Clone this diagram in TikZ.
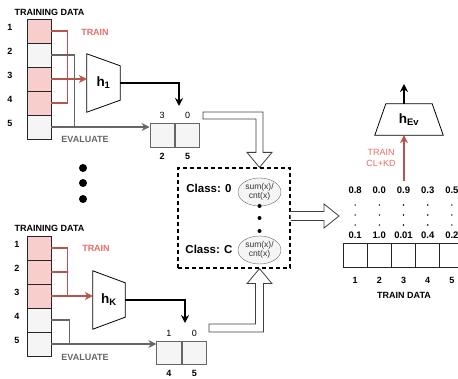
\documentclass[tikz,border=0pt]{standalone}
\usepackage{fontspec}
\setmainfont{Liberation Sans}
\usetikzlibrary{positioning,calc,arrows.meta,shapes.geometric}
\definecolor{pnk}{HTML}{F8CECC}
\definecolor{gry}{HTML}{F5F5F5}
\definecolor{trnred}{HTML}{B85450}
\definecolor{trntxt}{HTML}{EA6B66}
\definecolor{evgray}{HTML}{666666}

\begin{document}
\begin{tikzpicture}[x=1pt,y=-1pt,
    cell/.style={draw=black!85,minimum size=24pt,inner sep=0pt,line width=0.8pt},
    pcell/.style={draw=evgray,fill=gry,minimum width=24.5pt,minimum height=24pt,inner sep=0pt,line width=0.8pt},
    num/.style={font=\fontsize{9}{11}\selectfont\bfseries,inner sep=0pt},
    cnt/.style={font=\fontsize{9}{11}\selectfont,inner sep=0pt},
    score/.style={font=\fontsize{9.5}{11}\selectfont\bfseries,inner sep=0pt},
    cls/.style={font=\fontsize{11.5}{13}\selectfont\bfseries,inner sep=0pt},
    ell/.style={ellipse,draw=evgray,fill=gry,minimum width=43pt,minimum height=28pt,inner sep=0pt,
      align=center,font=\fontsize{8.5}{9.5}\selectfont,text=black!80},
    model/.style={minimum width=#1,minimum height=58pt,inner sep=0pt,font=\fontsize{13.5}{14}\selectfont\bfseries},
    trn/.style={draw=trnred,line width=1.1pt},
    evl/.style={draw=evgray,line width=1.1pt},
    pred/.style={draw=black,line width=1.3pt},
    arr/.style={-{Stealth[length=8pt,width=8pt]}},
    fat/.style={draw=black!75,fill=white,line width=0.8pt},
    jn/.style={circle,fill=#1,inner sep=0pt,minimum size=2.5pt},
  ]
  \useasboundingbox (0,0) rectangle (458,379);

  % first model h_1
  \node[num] (td1) at (49.5,12) {TRAINING DATA};
  \foreach \i/\c in {1/pnk,2/gry,3/pnk,4/pnk,5/gry}
    \node[cell,fill=\c] (t\i) at (39,{31+24*(\i-1)}) {};
  \foreach \i in {1,...,5}
    \node[num] (tn\i) at (10,{27.5+24*(\i-1)}) {\i};
  \node[model=33pt] (h1) at (103.5,83) {h\textsubscript{1}};
  \draw[line width=0.8pt] (h1.north west) -- ([yshift=-12pt]h1.north east)
    -- ([yshift=12pt]h1.south east) -- (h1.south west) -- cycle;
  \node[pcell] (pa) at (162.25,135) {};
  \node[pcell,right=0pt of pa] (pb) {};
  \node[cnt,above=4pt of pa] (pa3) {3};
  \node[cnt,above=4pt of pb] (pb0) {0};
  \node[num,below=5.5pt of pa] (pa2) {2};
  \node[num,below=5.5pt of pb] (pb5) {5};
  \node[num,text=trntxt] (train1) at (95,32) {TRAIN};
  \node[num,text=evgray] (eval1) at (85,139) {EVALUATE};
  \draw[trn] (t1.east) -- ++(16,0) |- (t4.east);
  \draw[trn,arr] (t3.east) -- (t3.east -| h1.west);
  \node[jn=trnred] at ($(t3.east)+(16,0)$) {};
  \draw[evl] (t2.east) -- ++(23,0) |- (t5.east);
  \draw[evl,arr] (t5.east) -- (t5.east -| pa.west);
  \node[jn=evgray] at ($(t5.east)+(23,0)$) {};
  \coordinate (o1) at (179,106);
  \draw[pred,arr] (h1.east) -| (o1);

  % more models
  \foreach \y in {168,183,199}
    \fill (83,\y) circle (4pt);

  % last model h_K
  \node[num] (td2) at (49.5,228) {TRAINING DATA};
  \foreach \i/\c in {1/pnk,2/pnk,3/pnk,4/gry,5/gry}
    \node[cell,fill=\c] (b\i) at (39,{248+24*(\i-1)}) {};
  \foreach \i in {1,...,5}
    \node[num] (bn\i) at (17,{244+24*(\i-1)}) {\i};
  \node[model=32pt] (hK) at (109,300) {h\textsubscript{K}};
  \draw[line width=0.8pt] (hK.north west) -- ([yshift=-12pt]hK.north east)
    -- ([yshift=12pt]hK.south east) -- (hK.south west) -- cycle;
  \node[pcell,minimum height=23pt] (qa) at (169,352.5) {};
  \node[pcell,minimum height=23pt,right=0pt of qa] (qb) {};
  \node[cnt,above=4pt of qa] (qa1) {1};
  \node[cnt,above=4pt of qb] (qb0) {0};
  \node[num,below=5.5pt of qa] (qa4) {4};
  \node[num,below=5.5pt of qb] (qb5) {5};
  \node[num,text=trntxt] (train2) at (96,248) {TRAIN};
  \node[num,text=evgray] (eval2) at (85,357) {EVALUATE};
  \draw[trn] (b1.east) -- ++(16,0) |- (b3.east);
  \draw[trn] (b2.east) -- ++(16,0);
  \draw[trn,arr] (b3.east) -- (b3.east -| hK.west);
  \node[jn=trnred] at ($(b2.east)+(16,0)$) {};
  \node[jn=trnred] at ($(b3.east)+(16,0)$) {};
  \draw[evl] (b4.east) -- ++(18,0) |- (b5.east);
  \draw[evl,arr] (b5.east) -- (b5.east -| qa.west);
  \node[jn=evgray] at ($(b5.east)+(18,0)$) {};
  \coordinate (oK) at (185,323);
  \draw[pred,arr] (hK.east) -| (oK);

  % class means
  \node[draw,dashed,dash pattern=on 4pt off 3pt,line width=1.2pt,
    minimum width=112pt,minimum height=100pt] (agg) at (234,218) {};
  \node[cls] (cl0) at (209,188) {Class: 0};
  \node[ell] (e0) at (259.5,192) {sum(x)/\\cnt(x)};
  \node[cls] (clC) at (209,249) {Class: C};
  \node[ell] (eC) at (259.5,250) {sum(x)/\\cnt(x)};
  \foreach \y in {206,218,231}
    \fill (259.5,\y) circle (2pt);

  % hollow arrows
  \coordinate (fa1) at (203,115.5);
  \coordinate (k1) at (e0 |- fa1);
  \coordinate (a1) at (e0 |- agg.north);
  \draw[fat] ($(fa1)+(0,-3.5)$) -- ($(k1)+(3.5,-3.5)$) -- ($(a1)+(3.5,-15)$)
    -- ($(a1)+(12.5,-15)$) -- (a1) -- ($(a1)+(-12.5,-15)$) -- ($(a1)+(-3.5,-15)$)
    -- ($(k1)+(-3.5,3.5)$) -- ($(fa1)+(0,3.5)$) -- cycle;
  \coordinate (fa2) at (209,328);
  \coordinate (k2) at (eC |- fa2);
  \coordinate (a2) at (eC |- agg.south);
  \draw[fat] ($(fa2)+(0,4)$) -- ($(k2)+(4,4)$) -- ($(a2)+(4,15)$)
    -- ($(a2)+(12.5,15)$) -- (a2) -- ($(a2)+(-12.5,15)$) -- ($(a2)+(-4,15)$)
    -- ($(k2)+(-4,-4)$) -- ($(fa2)+(0,-4)$) -- cycle;
  \coordinate (a3) at (339,216);
  \coordinate (fa3) at (agg.east |- a3);
  \draw[fat] ($(fa3)+(0,-4.5)$) -- ($(a3)+(-15,-4.5)$) -- ($(a3)+(-15,-12)$)
    -- (a3) -- ($(a3)+(-15,12)$) -- ($(a3)+(-15,4.5)$) -- ($(fa3)+(0,4.5)$);

  % train data with scores
  \foreach \v [count=\i] in {0.8,0.0,0.9,0.3,0.5}
    \node[score] (s\i) at ({355.1+24.2*(\i-1)},190) {\v};
  \foreach \v [count=\i] in {0.1,1.0,0.01,0.4,0.2}
    \node[score] (r\i) at ({355.1+24.2*(\i-1)},235) {\v};
  \foreach \i in {1,...,5}
    \foreach \y in {205,215,225}
      \fill ({355.1+24.2*(\i-1)},\y) circle (0.8pt);
  \foreach \i in {1,...,5}{
    \node[cell,minimum width=24.2pt] (d\i) at ({355.1+24.2*(\i-1)},255) {};
    \node[num,below=10pt of d\i] (dn\i) {\i};
  }
  \node[num] (tdata) at (404,295) {TRAIN DATA};

  % evaluator h_Ev
  \node[minimum width=68pt,minimum height=31pt,inner sep=0pt,
    font=\fontsize{13.5}{14}\selectfont\bfseries] (hev) at (409,119.5) {h\textsubscript{Ev}};
  \draw[line width=0.8pt] ([xshift=11pt]hev.north west) -- ([xshift=-11pt]hev.north east)
    -- (hev.south east) -- (hev.south west) -- cycle;
  \coordinate (up) at (404,84);
  \draw[pred,arr] (hev.north -| up) -- (up);
  \coordinate (rd) at (404,181);
  \draw[trn,arr] (rd) -- (rd |- hev.south);
  \node[cnt,align=center,text=trntxt] (clkd) at (381,158) {TRAIN\\CL+KD};
\end{tikzpicture}
\end{document}
